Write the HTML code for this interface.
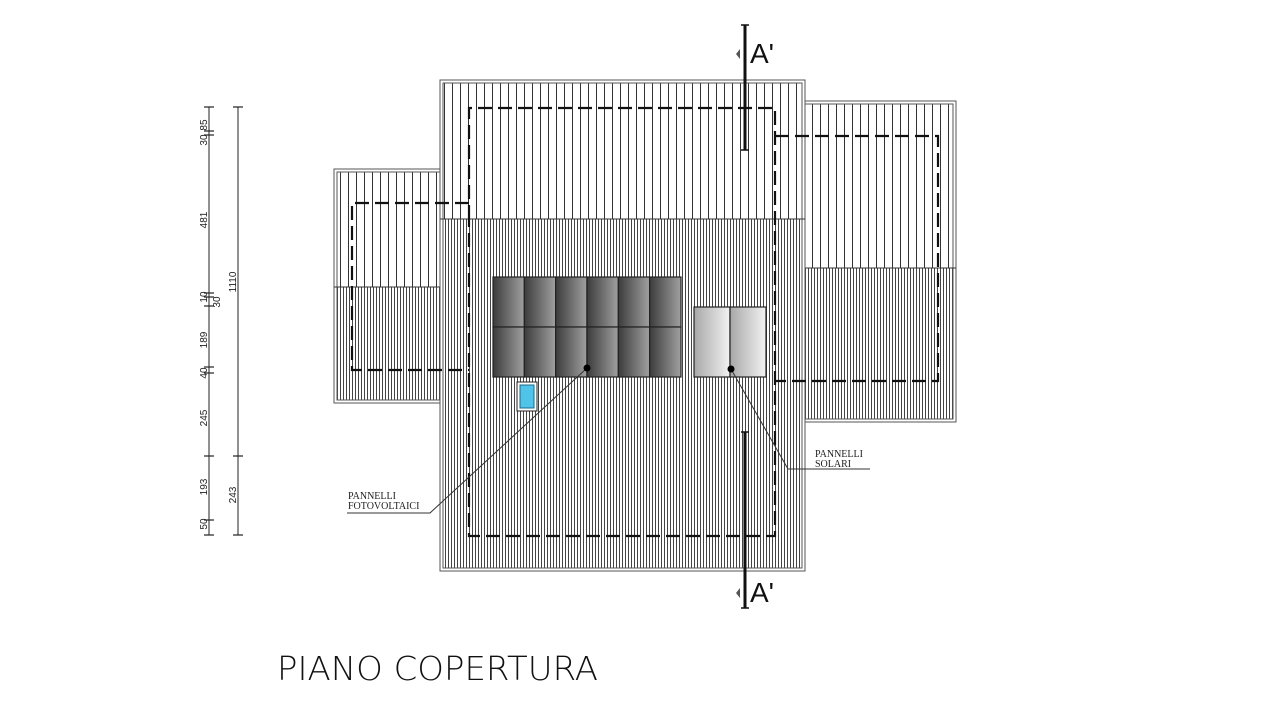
<!DOCTYPE html>
<html><head><meta charset="utf-8"><style>
html,body{margin:0;padding:0;background:#fff;width:1280px;height:720px;overflow:hidden}
svg{display:block}
</style></head><body>
<svg width="1280" height="720" viewBox="0 0 1280 720" xmlns="http://www.w3.org/2000/svg">
<defs>
<pattern id="sp" x="0" y="0" width="8" height="10" patternUnits="userSpaceOnUse">
<line x1="4.5" y1="0" x2="4.5" y2="10" stroke="#333" stroke-width="1"/></pattern>
<pattern id="dn" x="0" y="0" width="3" height="10" patternUnits="userSpaceOnUse">
<line x1="1.5" y1="0" x2="1.5" y2="10" stroke="#444" stroke-width="1"/></pattern>
<linearGradient id="pv" x1="0" x2="1" y1="0" y2="0"><stop offset="0" stop-color="#3c3c3c"/><stop offset="1" stop-color="#a0a0a0"/></linearGradient>
<linearGradient id="so" x1="0" x2="1" y1="0" y2="0"><stop offset="0" stop-color="#a8a8a8"/><stop offset="1" stop-color="#f2f2f2"/></linearGradient>
</defs>
<g stroke="#555" fill="none">
<rect x="337" y="172" width="103" height="115" fill="url(#sp)" stroke="none"/>
<rect x="337" y="287" width="103" height="113" fill="url(#dn)" stroke="none"/>
<rect x="334" y="169" width="106" height="234"/>
<rect x="337" y="172" width="103" height="228"/>
<line x1="334" y1="287" x2="440" y2="287" stroke="#333"/>
<rect x="805" y="104" width="148" height="164" fill="url(#sp)" stroke="none"/>
<rect x="805" y="268" width="148" height="151" fill="url(#dn)" stroke="none"/>
<rect x="805" y="101" width="151" height="321"/>
<rect x="805" y="104" width="148" height="315"/>
<line x1="805" y1="268" x2="956" y2="268" stroke="#333"/>
<rect x="443" y="83" width="359" height="136" fill="url(#sp)" stroke="none"/>
<rect x="443" y="219" width="359" height="349" fill="url(#dn)" stroke="none"/>
<rect x="440" y="80" width="365" height="491"/>
<rect x="443" y="83" width="359" height="485"/>
<line x1="440" y1="219" x2="805" y2="219" stroke="#333"/>
</g>
<g stroke="#111" stroke-width="2.2" fill="none" stroke-dasharray="14,6">
<polyline points="469,219 469,108 775,108 775,536 469,536 469,219"/>
<polyline points="775,136 938,136 938,381 775,381"/>
<polyline points="469,203 352,203 352,370 469,370"/>
</g>
<g stroke="#222" stroke-width="1.2">
<rect x="493" y="277" width="31.3" height="50" fill="url(#pv)"/><rect x="524.3" y="277" width="31.3" height="50" fill="url(#pv)"/><rect x="555.6" y="277" width="31.3" height="50" fill="url(#pv)"/><rect x="587" y="277" width="31.3" height="50" fill="url(#pv)"/><rect x="618.3" y="277" width="31.3" height="50" fill="url(#pv)"/><rect x="649.6" y="277" width="31.4" height="50" fill="url(#pv)"/>
<rect x="493" y="327" width="31.3" height="50" fill="url(#pv)"/><rect x="524.3" y="327" width="31.3" height="50" fill="url(#pv)"/><rect x="555.6" y="327" width="31.3" height="50" fill="url(#pv)"/><rect x="587" y="327" width="31.3" height="50" fill="url(#pv)"/><rect x="618.3" y="327" width="31.3" height="50" fill="url(#pv)"/><rect x="649.6" y="327" width="31.4" height="50" fill="url(#pv)"/>
<rect x="694" y="307" width="36" height="70" fill="url(#so)"/><rect x="730" y="307" width="36" height="70" fill="url(#so)"/>
</g>
<rect x="517" y="382" width="20" height="29" fill="#fff" stroke="#222"/>
<rect x="520" y="385" width="14" height="23" fill="#4fc3e8" stroke="#1a6a8a"/>
<g stroke="#333" stroke-width="1" fill="none">
<polyline points="587,368 430,513 347,513"/>
<polyline points="731,369 788,469 870,469"/>
</g>
<circle cx="587" cy="368" r="3.5" fill="#000"/>
<circle cx="731" cy="369" r="3.5" fill="#000"/>
<g font-family="Liberation Serif, serif" font-size="10" fill="#222">
<text x="348" y="499">PANNELLI</text><text x="348" y="509">FOTOVOLTAICI</text>
<text x="815" y="457">PANNELLI</text><text x="815" y="467">SOLARI</text>
</g>
<g stroke="#111" stroke-width="3">
<line x1="745" y1="25" x2="745" y2="150"/>
<line x1="745" y1="432" x2="745" y2="608"/>
</g>
<g stroke="#111" stroke-width="1.5"><line x1="741" y1="25" x2="749" y2="25"/><line x1="741" y1="150" x2="749" y2="150"/><line x1="741" y1="432" x2="749" y2="432"/><line x1="741" y1="608" x2="749" y2="608"/></g>
<path d="M740,49 L736,54 L740,59 Z" fill="#555"/>
<path d="M740,588 L736,593 L740,598 Z" fill="#555"/>
<g font-family="Liberation Sans, sans-serif" font-size="28" fill="#111">
<text x="750" y="63">A'</text><text x="750" y="602">A'</text>
</g>
<g stroke="#222" stroke-width="1">
<line x1="209" y1="107" x2="209" y2="535"/>
<line x1="238" y1="107" x2="238" y2="535"/>
<g stroke-width="1.2">
<line x1="204" y1="107" x2="214" y2="107"/><line x1="204" y1="131" x2="214" y2="131"/><line x1="204" y1="135" x2="214" y2="135"/>
<line x1="204" y1="293" x2="214" y2="293"/><line x1="204" y1="297" x2="214" y2="297"/><line x1="204" y1="306" x2="214" y2="306"/>
<line x1="204" y1="367" x2="214" y2="367"/><line x1="204" y1="373" x2="214" y2="373"/><line x1="204" y1="456" x2="214" y2="456"/>
<line x1="204" y1="520" x2="214" y2="520"/><line x1="204" y1="535" x2="214" y2="535"/>
<line x1="233" y1="107" x2="243" y2="107"/><line x1="233" y1="456" x2="243" y2="456"/><line x1="233" y1="535" x2="243" y2="535"/>
</g></g>
<g font-family="Liberation Sans, sans-serif" font-size="10" fill="#222">
<text transform="translate(207,125) rotate(-90)" text-anchor="middle">85</text>
<text transform="translate(207,140) rotate(-90)" text-anchor="middle">30</text>
<text transform="translate(207,220) rotate(-90)" text-anchor="middle">481</text>
<text transform="translate(207,297) rotate(-90)" text-anchor="middle">10</text>
<text transform="translate(220,302) rotate(-90)" text-anchor="middle">30</text>
<text transform="translate(207,340) rotate(-90)" text-anchor="middle">189</text>
<text transform="translate(207,373) rotate(-90)" text-anchor="middle">40</text>
<text transform="translate(207,418) rotate(-90)" text-anchor="middle">245</text>
<text transform="translate(207,487) rotate(-90)" text-anchor="middle">193</text>
<text transform="translate(207,524) rotate(-90)" text-anchor="middle">50</text>
<text transform="translate(236,282) rotate(-90)" text-anchor="middle">1110</text>
<text transform="translate(236,495) rotate(-90)" text-anchor="middle">243</text>
</g>
<text x="277" y="680" font-family="DejaVu Sans, Liberation Sans, sans-serif" font-weight="200" font-size="33" fill="#111" textLength="321" lengthAdjust="spacingAndGlyphs">PIANO COPERTURA</text>
</svg>
</body></html>
